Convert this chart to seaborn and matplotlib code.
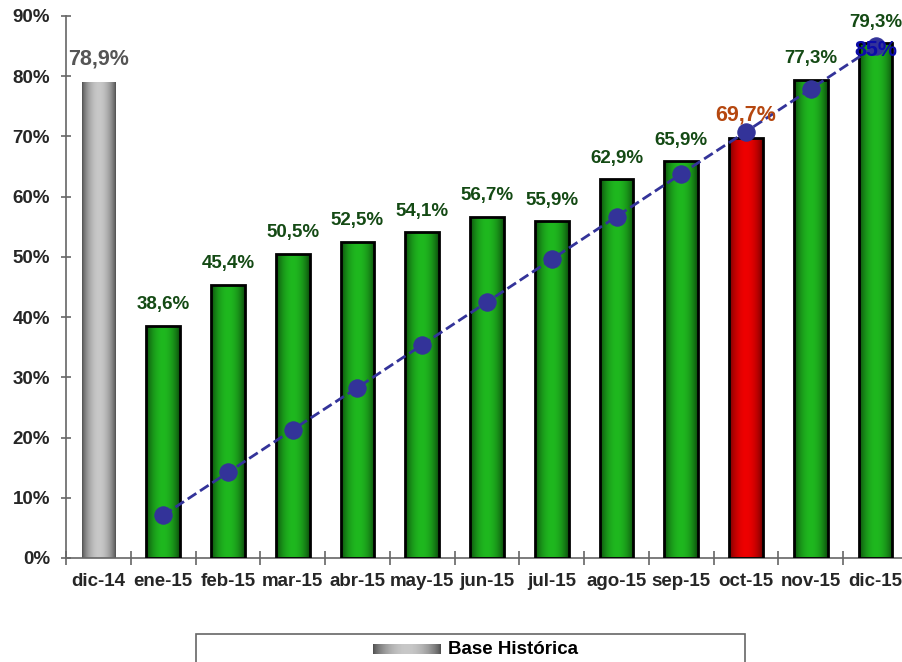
import numpy as np
import matplotlib
matplotlib.use("Agg")
import matplotlib.pyplot as plt
from matplotlib.patches import Rectangle
from matplotlib.ticker import FixedLocator
import seaborn as sns

# data
categorias = ["dic-14", "ene-15", "feb-15", "mar-15", "abr-15", "may-15", "jun-15",
              "jul-15", "ago-15", "sep-15", "oct-15", "nov-15", "dic-15"]
alturas = [79.1, 38.6, 45.4, 50.5, 52.5, 54.1, 56.7, 55.9, 62.9, 65.9, 69.7, 79.4, 85.5]
etiquetas = ["78,9%", "38,6%", "45,4%", "50,5%", "52,5%", "54,1%", "56,7%",
             "55,9%", "62,9%", "65,9%", "69,7%", "77,3%", "79,3%"]
meta = [7.1, 14.2, 21.3, 28.3, 35.4, 42.5, 49.6, 56.7, 63.8, 70.8, 77.9, 85.0]
meta_etiqueta = "85%"
tipo = ["base"] + ["verde"] * 9 + ["rojo"] + ["verde"] * 2

sns.set_style("white")
plt.rcParams["font.family"] = ["Liberation Sans", "DejaVu Sans"]
plt.rcParams["font.weight"] = "bold"

# gradient colours (edge, centre)
grad = {"base": ("#4a4a4a", "#c8c8c8"),
        "verde": ("#0a3f0a", "#1fb81f"),
        "rojo": ("#650000", "#ee0000")}
plano = {"base": "#999999", "verde": "#1a9a1a", "rojo": "#cc0000"}
color_txt = {"base": "#555555", "verde": "#144a14", "rojo": "#b5470f"}


def gradiente(k):
    t = np.linspace(-1, 1, 256)
    g = np.cos(t * np.pi / 2) ** 0.7
    a = np.array(matplotlib.colors.to_rgb(grad[k][0]))
    b = np.array(matplotlib.colors.to_rgb(grad[k][1]))
    return (a + (b - a) * g[:, None])[None, :, :]


fig = plt.figure(figsize=(9.03, 6.62), dpi=100)
ax = fig.add_axes([66 / 903, 1 - 558 / 662, 842 / 903, 542 / 662])

sns.barplot(x=categorias, y=alturas, hue=categorias,
            palette=[plano[k] for k in tipo], legend=False,
            width=0.52, edgecolor="black", linewidth=2, ax=ax)

for p, k in zip(ax.patches, tipo):
    x0, w, h = p.get_x(), p.get_width(), p.get_height()
    im = ax.imshow(gradiente(k), extent=[x0, x0 + w, 0, h], aspect="auto",
                   interpolation="bilinear", zorder=2)
    im.set_clip_path(p)
    p.set_facecolor("none")
    p.set_zorder(3)
    if k == "base":
        p.set_edgecolor("none")

ax.set_xlim(-0.5, len(categorias) - 0.5)
ax.set_ylim(0, 90)

# target line
xs = np.arange(1, len(categorias))
sns.lineplot(x=xs, y=meta, color="#333399", linestyle="--", linewidth=2,
             marker="o", markersize=12.5, markeredgecolor="#333399", ax=ax, zorder=5)

for i, (h, s, k) in enumerate(zip(alturas, etiquetas, tipo)):
    fs = 13.5 if k == "verde" else 15.5
    ax.annotate(s, (i, h), xytext=(0, 9), textcoords="offset points",
                ha="center", va="bottom", fontsize=fs, fontweight="bold",
                color=color_txt[k], zorder=10)
ax.annotate(meta_etiqueta, (xs[-1], meta[-1]), xytext=(0, -3), textcoords="offset points",
            ha="center", va="center", fontsize=15.5, fontweight="bold",
            color="#0c0ca8", zorder=10)

# axes styling
for s in ["top", "right"]:
    ax.spines[s].set_visible(False)
for s in ["left", "bottom"]:
    ax.spines[s].set_color("#666666")
    ax.spines[s].set_linewidth(1.2)
ax.set_yticks(range(0, 91, 10))
ax.set_yticklabels([f"{v}%" for v in range(0, 91, 10)])
ax.tick_params(axis="y", direction="inout", length=7, width=1.2, color="#666666",
               labelsize=13.5, pad=8, left=True)
ax.xaxis.set_minor_locator(FixedLocator(np.arange(-0.5, len(categorias), 1)))
ax.tick_params(axis="x", which="major", length=0, labelsize=13.5, pad=11)
ax.tick_params(axis="x", which="minor", direction="inout", length=10, width=1.2,
               color="#666666", bottom=True)
for lab in ax.get_xticklabels() + ax.get_yticklabels():
    lab.set_fontweight("bold")

# legend box at bottom
fig.patches.append(Rectangle((196 / 903, -0.05), (745 - 196) / 903, 0.05 + 28 / 662,
                             transform=fig.transFigure, fill=False,
                             edgecolor="#666666", linewidth=1.2))
lax = fig.add_axes([373 / 903, 1 - 654 / 662, 68 / 903, 10 / 662])
lax.imshow(gradiente("base"), aspect="auto", interpolation="bilinear")
lax.axis("off")
fig.text(448 / 903, 1 - 649 / 662, "Base Histórica", ha="left", va="center",
         fontsize=13.5, fontweight="bold", color="black")

fig.savefig("out.png", dpi=100)
